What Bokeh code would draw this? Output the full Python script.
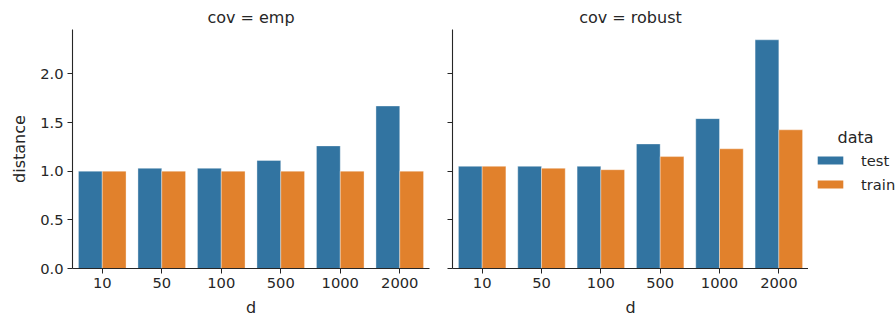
from bokeh.plotting import figure
from bokeh.layouts import row
from bokeh.models import (ColumnDataSource, FactorRange, Range1d, FixedTicker,
                          PrintfTickFormatter, CustomJSTickFormatter, Legend,
                          LegendItem)
from bokeh.core.properties import value
from bokeh.transform import dodge
from bokeh.embed import file_html
from bokeh.resources import INLINE

# Data: mean distance per dimension d, split by covariance estimator
d_values = ["10", "50", "100", "500", "1000", "2000"]
emp_test = [1.00, 1.03, 1.03, 1.11, 1.26, 1.67]
emp_train = [1.00, 1.00, 1.00, 1.00, 1.00, 1.00]
robust_test = [1.05, 1.05, 1.05, 1.28, 1.54, 2.35]
robust_train = [1.05, 1.03, 1.015, 1.15, 1.23, 1.425]
y_ticks = [0.0, 0.5, 1.0, 1.5, 2.0]
series_names = ["test", "train"]
legend_title = "data"

BLUE = "#3274a1"
ORANGE = "#e1812c"
INK = "#262626"
FONT = "DejaVu Sans"

FRAME_H = 239
y_range = Range1d(0, 2.456)


def panel(title, test, train, show_ylabels, border_left, border_right, frame_w):
    src = ColumnDataSource(dict(d=d_values, test=test, train=train))
    p = figure(x_range=FactorRange(*d_values), y_range=y_range,
               frame_width=frame_w, frame_height=FRAME_H,
               min_border_left=border_left, min_border_right=border_right,
               min_border_top=29, min_border_bottom=52,
               output_backend="svg", toolbar_location=None,
               background_fill_color="white", border_fill_color="white")
    p.outline_line_color = None
    p.grid.grid_line_color = None

    p.title.text = title
    p.title.align = "center"
    p.title.text_font = FONT
    p.title.text_font_size = "16px"
    p.title.text_font_style = "normal"
    p.title.text_color = INK
    p.title.standoff = 6

    p.vbar(x=dodge("d", -0.2, range=p.x_range), top="test", width=0.4,
           source=src, fill_color=BLUE, line_color="white",
           line_width=0.6, line_alpha=0.6)
    p.vbar(x=dodge("d", 0.2, range=p.x_range), top="train", width=0.4,
           source=src, fill_color=ORANGE, line_color="white",
           line_width=0.6, line_alpha=0.6)

    for ax in (p.xaxis[0], p.yaxis[0]):
        ax.axis_line_color = INK
        ax.axis_line_width = 1.1
        ax.major_tick_line_color = INK
        ax.major_tick_out = 5
        ax.major_tick_in = 0
        ax.minor_tick_line_color = None
        ax.major_label_text_font = FONT
        ax.major_label_text_font_size = "14.7px"
        ax.major_label_text_color = INK
        ax.major_label_standoff = 4
        ax.axis_label_text_font = FONT
        ax.axis_label_text_font_size = "16px"
        ax.axis_label_text_font_style = "normal"
        ax.axis_label_text_color = INK

    p.xaxis.axis_label = "d"
    p.xaxis.axis_label_standoff = 7
    p.yaxis.ticker = FixedTicker(ticks=y_ticks)
    if show_ylabels:
        p.yaxis.formatter = PrintfTickFormatter(format="%.1f")
        p.yaxis.axis_label = "distance"
        p.yaxis.axis_label_standoff = 8
    else:
        # shared y axis: ticks only, no labels
        p.yaxis.formatter = CustomJSTickFormatter(code="return ''")
        p.yaxis.major_label_text_color = None
        p.yaxis.major_label_standoff = 0
    return p


p1 = panel("cov = emp", emp_test, emp_train, True, 72, 11, 357)
p2 = panel("cov = robust", robust_test, robust_train, False, 12, 0, 356)

# Legend column to the right of the facets (pixel-like ranges)
p3 = figure(frame_width=88, frame_height=FRAME_H,
            x_range=Range1d(0, 88), y_range=Range1d(0, FRAME_H),
            min_border_left=0, min_border_right=0,
            min_border_top=29, min_border_bottom=52,
            x_axis_location=None, y_axis_location=None,
            output_backend="svg", toolbar_location=None)
p3.outline_line_color = None
p3.grid.grid_line_color = None
# hidden copies of the series, used only as legend keys
key_idx = list(range(len(d_values)))
key_test = p3.vbar(x=key_idx, top=robust_test, width=0.4, fill_color=BLUE,
                   line_color=None, visible=False)
key_train = p3.vbar(x=key_idx, top=robust_train, width=0.4, fill_color=ORANGE,
                    line_color=None, visible=False)
p3.text(x=[47], y=[131], text=[legend_title], text_align="center",
        text_baseline="middle", text_font=value(FONT), text_font_size="16px",
        text_color=INK)

legend = Legend(items=[LegendItem(label=series_names[0], renderers=[key_test]),
                       LegendItem(label=series_names[1], renderers=[key_train])],
                location=(6, 74), orientation="vertical",
                glyph_width=32, glyph_height=10, label_height=20,
                label_standoff=15, spacing=4, padding=0, margin=0,
                label_text_font=FONT, label_text_font_size="14.7px",
                label_text_color=INK, background_fill_alpha=0,
                border_line_color=None)
p3.add_layout(legend)

layout = row(p1, p2, p3, spacing=0)

with open("out.html", "w") as f:
    f.write(file_html(layout, INLINE))
